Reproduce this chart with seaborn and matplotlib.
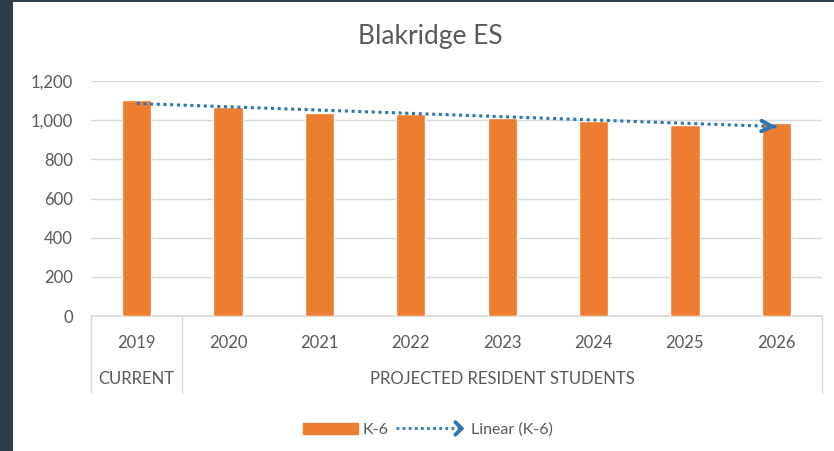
import pandas as pd
import seaborn as sns
import matplotlib.pyplot as plt
import numpy as np
from matplotlib.patches import Patch, Rectangle
from matplotlib.lines import Line2D
from matplotlib.legend_handler import HandlerBase
import matplotlib.transforms as mtransforms

# Data
years = ["2019", "2020", "2021", "2022", "2023", "2024", "2025", "2026"]
students = [1102, 1068, 1037, 1034, 1010, 997, 976, 986]
groups = ["CURRENT", "PROJECTED RESIDENT STUDENTS"]
group_sizes = [1, 7]
y_ticks = [0, 200, 400, 600, 800, 1000, 1200]

ORANGE = "#ED7D31"
BLUE = "#2E75B6"
GREY = "#595959"
GRID = "#D9D9D9"

sns.set_theme(style="white")
plt.rcParams['font.family'] = ['Lato', 'DejaVu Sans']

df = pd.DataFrame({"year": years, "students": students})

fig = plt.figure(figsize=(8.34, 4.51), dpi=100)
fig.patch.set_facecolor("white")
ax = fig.add_axes([0.109, 0.2993, 0.8766, 0.5211])

# dark frame bits from the slide behind the chart
fig.patches.append(Rectangle((0, 0), 13 / 834, 1, transform=fig.transFigure,
                             facecolor="#2E3E49", edgecolor="none", zorder=-1))
fig.patches.append(Rectangle((0, 1 - 2 / 451), 1, 2 / 451, transform=fig.transFigure,
                             facecolor="#2E3E49", edgecolor="none", zorder=-1))

sns.barplot(data=df, x="year", y="students", color=ORANGE, saturation=1,
            width=0.32, ax=ax, zorder=3)

# linear trendline (computed from the bars)
pos = np.arange(len(years))
slope, icpt = np.polyfit(pos, students, 1)
trend = slope * pos + icpt
ax.plot(pos, trend, ls=(0, (1, 1.2)), lw=2.2, color=BLUE, zorder=4)
ax.annotate("", xy=(pos[-1], trend[-1]), xytext=(pos[-1] - 0.05, trend[-1] - slope * 0.05),
            arrowprops=dict(arrowstyle="->", lw=2.8, color=BLUE, mutation_scale=19), zorder=5)

ax.set_xlim(-0.5, len(years) - 0.5)
ax.set_ylim(0, 1200)
ax.set_yticks(y_ticks)
ax.set_yticklabels([f"{v:,}" for v in y_ticks])
ax.set_xlabel("")
ax.set_ylabel("")
ax.yaxis.grid(True, color=GRID, lw=1)
ax.set_axisbelow(True)
for s in ["top", "right", "left"]:
    ax.spines[s].set_visible(False)
ax.spines["bottom"].set_color(GRID)
ax.tick_params(axis="y", length=0, pad=13, labelsize=12, labelcolor=GREY)
ax.tick_params(axis="x", length=0, pad=14, labelsize=12, labelcolor=GREY)

# second level of the category axis
tr = mtransforms.blended_transform_factory(ax.transData, ax.transAxes)
edges = np.concatenate([[0], np.cumsum(group_sizes)]) - 0.5
for e in edges:
    ax.plot([e, e], [0, -0.328], transform=tr, color=GRID, lw=1, clip_on=False)
for i, g in enumerate(groups):
    ax.text((edges[i] + edges[i + 1]) / 2, -0.27, g, transform=tr, ha="center",
            va="center", fontsize=12, color=GREY)

fig.text(0.516, 0.92, "Blakridge ES", ha="center", va="center", fontsize=19, color=GREY)


class ArrowLineHandler(HandlerBase):
    # dotted line with a chevron head; sticks out to the left of its box (units: points)
    def create_artists(self, legend, orig_handle, xdescent, ydescent, width, height,
                       fontsize, trans):
        y = height / 2 - ydescent
        x0, x1 = -xdescent - 11, width - xdescent - 3
        line = Line2D([x0, x1 - 2], [y, y], ls=(0, (1, 1.2)), lw=2, color=BLUE, transform=trans)
        head = Line2D([x1 - 4.5, x1, x1 - 4.5], [y + 4.5, y, y - 4.5], lw=2.8, color=BLUE,
                      transform=trans, solid_joinstyle="miter")
        return [line, head]


trend_handle = Line2D([], [], color=BLUE)
fig.legend([Patch(color=ORANGE), trend_handle], ["K-6", "Linear (K-6)"],
           handler_map={Line2D: ArrowLineHandler()},
           loc="center", bbox_to_anchor=(0.513, 0.047), ncol=2, frameon=False,
           fontsize=11.5, handlelength=3.4, handleheight=0.75, columnspacing=1.45,
           handletextpad=0.3, labelcolor=GREY)

fig.savefig("out.png", dpi=100)
